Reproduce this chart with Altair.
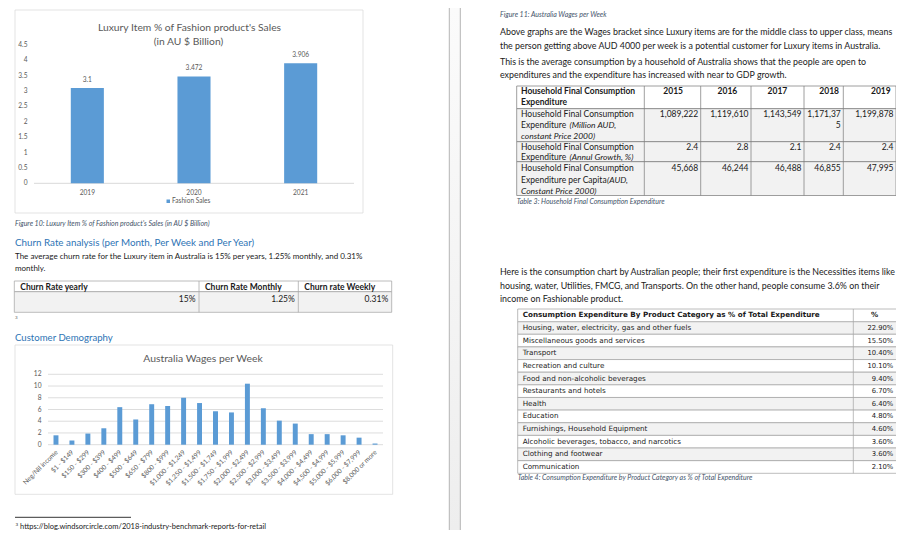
import altair as alt
import pandas as pd

# ------------------------------------------------------------------ data
lux_years = ["2019", "2020", "2021"]
lux_sales = [3.1, 3.472, 3.906]
lux_ticks = [0, 0.5, 1, 1.5, 2, 2.5, 3, 3.5, 4, 4.5]

wage_brackets = ["Neg/Nil income", "$1 - $149", "$150 - $299", "$300 - $399",
                 "$400 - $499", "$500 - $649", "$650 - $799", "$800 - $999",
                 "$1,000 - $1,249", "$1,250 - $1,499", "$1,500 - $1,749",
                 "$1,750 - $1,999", "$2,000 - $2,499", "$2,500 - $2,999",
                 "$3,000 - $3,499", "$3,500 - $3,999", "$4,000 - $4,499",
                 "$4,500 - $4,999", "$5,000 - $5,999", "$6,000 - $7,999",
                 "$8,000 or more"]
wage_pct = [1.6, 0.7, 1.9, 2.8, 6.4, 4.3, 6.9, 6.6, 8.0, 7.1, 5.7, 5.5,
            10.4, 6.2, 4.1, 3.6, 1.8, 1.8, 1.6, 1.2, 0.2]
wage_ticks = [0, 2, 4, 6, 8, 10, 12]

churn_heads = ["Churn Rate yearly", "Churn Rate Monthly", "Churn rate Weekly"]
churn_vals = ["15%", "1.25%", "0.31%"]

hfce_years = ["2015", "2016", "2017", "2018", "2019"]
hfce_million = [1089222, 1119610, 1143549, 1171375, 1199878]
hfce_growth = [2.4, 2.8, 2.1, 2.4, 2.4]
hfce_capita = [45668, 46244, 46488, 46855, 47995]

cat_names = ["Housing, water, electricity, gas and other fuels",
             "Miscellaneous goods and services", "Transport",
             "Recreation and culture", "Food and non-alcoholic beverages",
             "Restaurants and hotels", "Health", "Education",
             "Furnishings, Household Equipment",
             "Alcoholic beverages, tobacco, and narcotics",
             "Clothing and footwear", "Communication"]
cat_pct = [22.9, 15.5, 10.4, 10.1, 9.4, 6.7, 6.4, 4.8, 4.6, 3.6, 3.6, 2.1]

# ------------------------------------------------------------------ style
BODY = "Lato"
MONO = "DejaVu Sans"
INK = "#1a1a1a"
GREY = "#595959"
BLUE = "#2e74b5"
CAP = "#44546a"
BAR = "#5b9bd5"
GRID = "#d9d9d9"
W, H = 888, 522
M = 8  # page margin
FS_L = 8.0   # left page body
FS_R = 8.85  # right page body
FS_T = 8.5   # table text
FS_C = 7.0   # captions


def P(v):
    return v - M


one = pd.DataFrame({"k": [0]})
layers = []


def text(s, x, y, size=FS_R, color=INK, font=BODY, weight="normal",
         style="normal", align="left", baseline="middle"):
    layers.append(
        alt.Chart(one).mark_text(align=align, baseline=baseline, font=font,
                                 fontSize=size, fontWeight=weight,
                                 fontStyle=style, color=color)
        .encode(x=alt.value(P(x)), y=alt.value(P(y)), text=alt.value(s)))


def box(x1, y1, x2, y2, fill="white", stroke=None, sw=0.75):
    kw = dict(fill=fill, strokeWidth=sw)
    if stroke:
        kw["stroke"] = stroke
    layers.append(
        alt.Chart(one).mark_rect(**kw)
        .encode(x=alt.value(P(x1)), x2=alt.value(P(x2)),
                y=alt.value(P(y1)), y2=alt.value(P(y2))))


def rule(x1, y1, x2, y2, color=GRID, sw=0.75):
    layers.append(
        alt.Chart(one).mark_rule(color=color, strokeWidth=sw)
        .encode(x=alt.value(P(x1)), x2=alt.value(P(x2)),
                y=alt.value(P(y1)), y2=alt.value(P(y2))))


def band(domain, lo, hi, pad=0.69):
    return alt.Scale(type="band", domain=domain, range=[P(lo), P(hi)],
                     paddingInner=pad, paddingOuter=pad / 2)


def point(domain, lo, hi):
    return alt.Scale(type="point", domain=domain, range=[P(lo), P(hi)],
                     padding=0.5)


def lin(dmax, y0, y1):
    return alt.Scale(domain=[0, dmax], range=[P(y0), P(y1)], nice=False,
                     zero=True)


# ------------------------------------------------------------------ page gap
grad = alt.Gradient(gradient="linear",
                    stops=[alt.GradientStop(color="#fbfbfb", offset=0),
                           alt.GradientStop(color="#eeeeee", offset=1)],
                    x1=0, x2=0, y1=0, y2=1)
layers.append(alt.Chart(one).mark_rect(fill=grad).encode(
    x=alt.value(P(449.3)), x2=alt.value(P(460.3)),
    y=alt.value(0), y2=alt.value(H)))
rule(449.3, 0, 449.3, 538, "#b4b4b4", 1)
rule(460.3, 0, 460.3, 538, "#b4b4b4", 1)

# ------------------------------------------------------------------ chart 1
LX0, LX1, LY0, LY1 = 34, 354, 183.3, 45
box(15, 10, 363, 213, stroke=GRID)
text("Luxury Item % of Fashion product's Sales", 189.5, 28, 10.3, GREY,
     align="center")
text("(in AU $ Billion)", 188.5, 42, 10.3, GREY, align="center")
rule(LX0, LY0, LX1, LY0, GRID, 1)
lux = pd.DataFrame({"year": lux_years, "sales": lux_sales})
yl = alt.Y("sales:Q", scale=lin(4.5, LY0, LY1), axis=None)
layers.append(alt.Chart(lux).mark_bar(color=BAR).encode(
    x=alt.X("year:N", scale=band(lux_years, LX0, LX1), axis=None), y=yl))
layers.append(alt.Chart(lux).mark_text(dy=-8.5, font=BODY, fontSize=6.6,
                                        color=GREY).encode(
    x=alt.X("year:N", scale=point(lux_years, LX0, LX1), axis=None), y=yl,
    text=alt.Text("sales:Q", format="~g")))
layers.append(alt.Chart(lux).mark_text(font=BODY, fontSize=6.6,
                                        color=GREY).encode(
    x=alt.X("year:N", scale=point(lux_years, LX0, LX1), axis=None),
    y=alt.value(P(193)), text="year:N"))
lt = pd.DataFrame({"t": lux_ticks})
layers.append(alt.Chart(lt).mark_text(align="right", font=BODY, fontSize=6.6,
                                       color=GREY).encode(
    x=alt.value(P(27.5)),
    y=alt.Y("t:Q", scale=lin(4.5, LY0, LY1), axis=None),
    text=alt.Text("t:Q", format="~g")))
box(166.5, 199.5, 170, 203, fill=BAR)
text("Fashion Sales", 172, 201.3, 6.6, GREY)

# ------------------------------------------------------------------ left text
text("Figure 10: Luxury Item % of Fashion product's Sales (in AU $ Billion)",
     15, 224.3, FS_C, CAP, style="italic")
text("Churn Rate analysis (per Month, Per Week and Per Year)", 15, 243.3,
     9.8, BLUE)
text("The average churn rate for the Luxury item in Australia is 15% per "
     "years, 1.25% monthly, and 0.31%", 15, 256.7, FS_L)
text("monthly.", 15, 269.3, FS_L)

# churn table
CX = [14.3, 199, 298.3, 391.7]
CY = [281, 291.7, 312.3]
box(CX[0], CY[0], CX[3], CY[1], "white", "#a6a6a6")
box(CX[0], CY[1], CX[3], CY[2], "#f2f2f2", "#a6a6a6")
for i in range(3):
    if i:
        rule(CX[i], CY[0], CX[i], CY[2], "#a6a6a6")
    text(churn_heads[i], CX[i] + 6, 286.5, FS_T, INK, weight="bold")
    text(churn_vals[i], CX[i + 1] - 3.5, 299, FS_T, INK, align="right")
text("3", 15, 317.5, 4.5, GREY)

text("Customer Demography", 15, 337.7, 9.6, BLUE)

# ------------------------------------------------------------------ chart 2
WX0, WX1, WY0, WY1 = 48, 383, 444.7, 374.3
box(15, 345, 392.7, 494.3, stroke=GRID)
text("Australia Wages per Week", 203, 359, 10.4, GREY, align="center")
wt = pd.DataFrame({"t": wage_ticks})
yw = alt.Y("t:Q", scale=lin(12, WY0, WY1), axis=None)
layers.append(alt.Chart(wt).mark_rule(color=GRID, strokeWidth=0.9).encode(
    x=alt.value(P(WX0)), x2=alt.value(P(WX1)), y=yw))
layers.append(alt.Chart(wt).mark_text(align="right", font=BODY, fontSize=6.6,
                                       color=GREY).encode(
    x=alt.value(P(41.5)), y=yw, text="t:Q"))
wage = pd.DataFrame({"b": wage_brackets, "v": wage_pct})
layers.append(alt.Chart(wage).mark_bar(color=BAR).encode(
    x=alt.X("b:N", scale=band(wage_brackets, WX0, WX1), axis=None),
    y=alt.Y("v:Q", scale=lin(12, WY0, WY1), axis=None)))
layers.append(alt.Chart(wage).mark_text(angle=315, align="right",
                                         baseline="middle", font=BODY,
                                         fontSize=6.6, color=GREY, dx=1).encode(
    x=alt.X("b:N", scale=point(wage_brackets, WX0, WX1), axis=None),
    y=alt.value(P(452)), text="b:N"))

# footnote
rule(15, 517.3, 131, 517.3, "#000000", 0.8)
text("3", 15.5, 524.5, 4.5, INK)
text("https://blog.windsorcircle.com/2018-industry-benchmark-reports-for-retail",
     20, 527, 7.5, INK)
rule(20, 530.8, 267, 530.8, INK, 0.6)

# ------------------------------------------------------------------ right page
text("Figure 11: Australia Wages per Week", 500, 15, FS_C, CAP, style="italic")
text("Above graphs are the Wages bracket since Luxury items are for the middle "
     "class to upper class, means", 500, 32.3)
text("the person getting above AUD 4000 per week is a potential customer for "
     "Luxury items in Australia.", 500, 45.7)
text("This is the average consumption by a household of Australia shows that "
     "the people are open to", 500, 61.7)
text("expenditures and the expenditure has increased with near to GDP growth.",
     500, 75)

# table 3
TX = [516.7, 644.3, 700.7, 751, 804, 843.3, 896]
TY = [86, 108.7, 141.7, 161.7, 195.5]
YEAR_R = [683, 737.3, 787.3, 839, 890.7]
T3 = "#7f7f7f"
box(TX[0], TY[0], TX[6], TY[1], "white", T3)
for r in range(1, 4):
    box(TX[0], TY[r], TX[6], TY[r + 1], "#f2f2f2", T3)
for c in range(1, 6):
    rule(TX[c], TY[0], TX[c], TY[4], T3)
text("Household Final Consumption", 521, 91, FS_T, INK, weight="bold")
text("Expenditure", 521, 101.5, FS_T, INK, weight="bold")
for c, yr in enumerate(hfce_years):
    text(yr, YEAR_R[c], 91, FS_T, INK, weight="bold", align="right")
row_heads = [
    [("Household Final Consumption", ""), ("Expenditure ", "(Million AUD,"),
     ("", "constant Price 2000)")],
    [("Household Final Consumption", ""), ("Expenditure ", "(Annul Growth, %)")],
    [("Household Final Consumption", ""), ("Expenditure per Capita ", "(AUD,"),
     ("", "Constant Price 2000)")],
]
row_y0 = [113.5, 146.5, 168.3]
row_lh = [11.3, 10.2, 11.5]
ital_x = [569.5, 569.5, 607]
for r, lines in enumerate(row_heads):
    for k, (norm, ital) in enumerate(lines):
        yy = row_y0[r] + k * row_lh[r]
        if norm:
            text(norm, 521, yy, FS_T, INK)
        if ital:
            text(ital, ital_x[r] if norm else 521, yy, FS_T, INK,
                 style="italic")
for c in range(5):
    m = f"{hfce_million[c]:,}"
    xr = TX[c + 2] - 2.5
    if c == 3:
        text(m[:-1], xr, row_y0[0], FS_T, INK, align="right")
        text(m[-1], xr, row_y0[0] + row_lh[0], FS_T, INK, align="right")
    else:
        text(m, xr, row_y0[0], FS_T, INK, align="right")
    text(f"{hfce_growth[c]}", xr, row_y0[1], FS_T, INK, align="right")
    text(f"{hfce_capita[c]:,}", xr, row_y0[2], FS_T, INK, align="right")
text("Table 3: Household Final Consumption Expenditure", 516.7, 201.7, FS_C,
     CAP, style="italic")

text("Here is the consumption chart by Australian people; their first "
     "expenditure is the Necessities items like", 500, 272.3)
text("housing, water, Utilities, FMCG, and Transports. On the other hand, "
     "people consume 3.6% on their", 500, 285.7)
text("income on Fashionable product.", 500, 299)

# table 4
AX0, AXD, AX1, AY0, AY1 = 517.7, 853.3, 896.5, 309, 473.3
T4 = "#a6a6a6"
rows = list(range(13))
cat = pd.DataFrame({"row": list(range(1, 13)), "name": cat_names,
                    "pct": cat_pct})
layers.append(alt.Chart(cat).transform_calculate(
    shade="datum.row % 2 == 1 ? 'g' : 'w'").mark_rect(
    stroke=T4, strokeWidth=0.75).encode(
    x=alt.value(P(AX0)), x2=alt.value(P(AX1)),
    y=alt.Y("row:O", scale=alt.Scale(type="band", domain=rows,
                                     range=[P(AY0), P(AY1)], paddingInner=0,
                                     paddingOuter=0), axis=None),
    color=alt.Color("shade:N", scale=alt.Scale(domain=["g", "w"],
                                               range=["#f2f2f2", "#ffffff"]),
                    legend=None)))
box(AX0, AY0, AX1, AY0 + (AY1 - AY0) / 13, "white", T4)
rule(AXD, AY0, AXD, AY1, T4)
yr4 = alt.Y("row:O", scale=alt.Scale(type="point", domain=rows,
                                     range=[P(AY0), P(AY1)], padding=0.5),
            axis=None)
layers.append(alt.Chart(cat).mark_text(align="left", font=MONO, fontSize=7.2,
                                        color=INK).encode(
    x=alt.value(P(522.7)), y=yr4, text="name:N"))
layers.append(alt.Chart(cat).transform_calculate(
    lbl="format(datum.pct, '.2f') + '%'").mark_text(
    align="right", font=MONO, fontSize=6.8, color=INK).encode(
    x=alt.value(P(893.3)), y=yr4, text="lbl:N"))
text("Consumption Expenditure By Product Category as % of Total Expenditure",
     522.7, AY0 + 6.3, 7.2, INK, font=MONO, weight="bold")
text("%", 874.5, AY0 + 6.3, 7.2, INK, font=MONO, weight="bold", align="center")
text("Table 4: Consumption Expenditure by Product Category as % of Total "
     "Expenditure", 517.7, 478.3, FS_C, CAP, style="italic")

# ------------------------------------------------------------------ assemble
chart = alt.layer(*layers).resolve_scale(
    x="independent", y="independent", color="independent"
).properties(width=W, height=H, autosize="none", padding=0,
             background="white").configure_view(stroke=None)

chart.save("out.html", embed_options={"renderer": "svg", "actions": False})
